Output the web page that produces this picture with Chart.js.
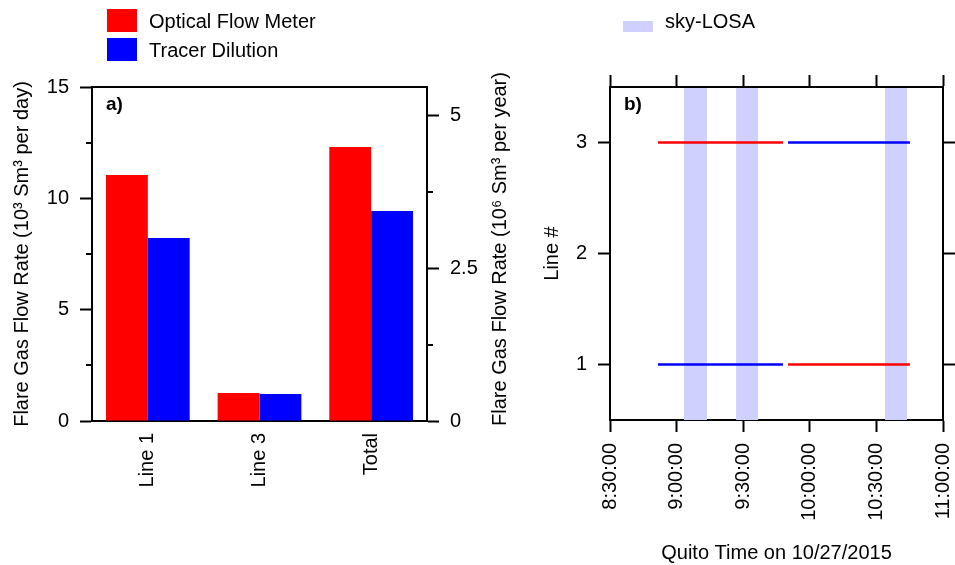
<!DOCTYPE html>
<html>
<head>
<meta charset="utf-8">
<title>Flare gas flow rates</title>
<script src="https://cdn.jsdelivr.net/npm/chart.js@4.4.1/dist/chart.umd.min.js"></script>
<style>
  html, body { margin: 0; padding: 0; background: #fff; }
  #page { position: relative; width: 955px; height: 565px; overflow: hidden;
          font-family: "Liberation Sans", Arial, sans-serif; color: #000; }
  #flowWrap { position: absolute; left: 0; top: 0; width: 540px; height: 565px; }
  #timeWrap { position: absolute; left: 540px; top: 0; width: 415px; height: 565px; }
  .swatch { position: absolute; }
  .key { position: absolute; font-size: 20px; line-height: 24px; white-space: nowrap; }
</style>
</head>
<body>
<div id="page">
  <div id="flowWrap"><canvas id="flowChart" width="540" height="565"></canvas></div>
  <div id="timeWrap"><canvas id="timeChart" width="415" height="565"></canvas></div>
  <div id="legend"></div>
</div>
<script>
const FONT = '"Liberation Sans", Arial, sans-serif';
const RED = '#ff0000';
const BLUE = '#0000ff';
const SKY = '#d0d0ff';

// a) flow rate per flare line, 10^3 Sm3 per day
const categories = ['Line 1', 'Line 3', 'Total'];
const seriesNames = ['Optical Flow Meter', 'Tracer Dilution'];
const opticalFlow = [11.05, 1.26, 12.31];
const tracerDilution = [8.22, 1.21, 9.43];
const dayTicks = [0, 5, 10, 15];
const dayMinorTicks = [2.5, 7.5, 12.5];
const yearTicks = [0, 2.5, 5];
const yearMinorTicks = [1.25, 3.75];

// b) measurement schedule, minutes after midnight
const runStart = [531.6, 590.2];
const runEnd = [587.9, 645.1];
const opticalLineNo = [3, 1];
const tracerLineNo = [1, 3];
const skyName = 'sky-LOSA';
const skyStart = [543.3, 566.8, 633.9];
const skyEnd = [553.7, 576.7, 643.8];
const timeTicks = [510, 540, 570, 600, 630, 660];
const lineTicks = [1, 2, 3];

const font = { family: FONT, size: 20 };
const grid = { drawOnChartArea: false, drawTicks: true, tickLength: 12, tickWidth: 2, tickColor: '#000' };
const border = { display: true, color: '#000', width: 2 };
const fixTicks = list => scale => { scale.ticks = list.map(v => ({ value: v })); };

// fixed axis thickness, and no extra room for labels hanging past the ends
const fixSize = (key, size) => scale => {
  scale[key] = size;
  scale.paddingLeft = scale.paddingRight = 0;
  scale.paddingTop = scale.paddingBottom = 0;
};

function clock(min) {
  const h = Math.floor(min / 60);
  const m = Math.round(min % 60);
  return h + ':' + String(m).padStart(2, '0') + ':00';
}

// frame, minor ticks, panel letter and extra rotated titles
const decorations = {
  id: 'decorations',
  afterDraw(chart, args, opts) {
    const { ctx, chartArea: a, scales } = chart;
    ctx.save();
    ctx.strokeStyle = '#000';
    ctx.lineWidth = 2;
    if (opts.topLine) {
      ctx.beginPath();
      ctx.moveTo(a.left, a.top);
      ctx.lineTo(a.right, a.top);
      ctx.stroke();
    }
    (opts.minor || []).forEach(m => {
      const s = scales[m.axis];
      m.values.forEach(v => {
        const y = Math.round(s.getPixelForValue(v));
        const x = s.position === 'left' ? a.left : a.right;
        const dir = s.position === 'left' ? -1 : 1;
        ctx.beginPath();
        ctx.moveTo(x, y);
        ctx.lineTo(x + dir * 6, y);
        ctx.stroke();
      });
    });
    ctx.fillStyle = '#000';
    ctx.font = 'bold 19px ' + FONT;
    ctx.textAlign = 'left';
    ctx.textBaseline = 'middle';
    ctx.fillText(opts.letter, a.left + 14, a.top + 18);
    if (opts.sideTitle) {
      ctx.font = '20px ' + FONT;
      ctx.textAlign = 'center';
      ctx.translate(opts.sideTitle.x, opts.sideTitle.y);
      ctx.rotate(-Math.PI / 2);
      ctx.fillText(opts.sideTitle.text, 0, 0);
    }
    ctx.restore();
  }
};

// sky-LOSA observation windows behind the runs
const skyBands = {
  id: 'skyBands',
  beforeDatasetsDraw(chart) {
    const { ctx, chartArea: a, scales: { x } } = chart;
    ctx.save();
    ctx.fillStyle = SKY;
    skyStart.forEach((t0, i) => {
      const x0 = x.getPixelForValue(t0);
      const x1 = x.getPixelForValue(skyEnd[i]);
      ctx.fillRect(x0, a.top + 1, x1 - x0, a.bottom - a.top - 1);
    });
    ctx.restore();
  }
};

new Chart(document.getElementById('flowChart'), {
  type: 'bar',
  data: {
    labels: categories,
    datasets: [
      { label: seriesNames[0], data: opticalFlow, backgroundColor: RED,
        categoryPercentage: 0.75, barPercentage: 1, borderWidth: 0 },
      { label: seriesNames[1], data: tracerDilution, backgroundColor: BLUE,
        categoryPercentage: 0.75, barPercentage: 1, borderWidth: 0 }
    ]
  },
  options: {
    responsive: false,
    animation: false,
    layout: { padding: { top: 87, left: 0, right: 0, bottom: 0 } },
    plugins: {
      legend: { display: false },
      tooltip: { enabled: false },
      decorations: {
        topLine: true,
        letter: 'a)',
        minor: [{ axis: 'y', values: dayMinorTicks }, { axis: 'y2', values: yearMinorTicks }],
        sideTitle: { x: 500, y: 249, text: 'Flare Gas Flow Rate (10\u2076 Sm\u00b3 per year)' }
      }
    },
    scales: {
      x: {
        grid: { display: false, drawTicks: false },
        border,
        ticks: { font, color: '#000', padding: 12, minRotation: 90, maxRotation: 90, autoSkip: false },
        afterFit: fixSize('height', 144)
      },
      y: {
        position: 'left', min: 0, max: 15,
        afterBuildTicks: fixTicks(dayTicks),
        grid, border,
        ticks: { font, color: '#000', padding: 11 },
        title: { display: true, text: 'Flare Gas Flow Rate (10\u00b3 Sm\u00b3 per day)', font, color: '#000',
                 padding: { top: 10, bottom: 0 } },
        afterFit: fixSize('width', 92)
      },
      y2: {
        position: 'right', min: 0, max: 15 * 365 / 1000,
        afterBuildTicks: fixTicks(yearTicks),
        grid, border,
        ticks: { font, color: '#000', padding: 11, callback: v => String(v) },
        afterFit: fixSize('width', 113)
      }
    }
  },
  plugins: [decorations]
});

// one flat segment per instrument and run
const runSets = [];
runStart.forEach((t0, i) => {
  runSets.push({ label: seriesNames[0], borderColor: RED,
    data: [{ x: t0, y: opticalLineNo[i] }, { x: runEnd[i], y: opticalLineNo[i] }] });
  runSets.push({ label: seriesNames[1], borderColor: BLUE,
    data: [{ x: t0, y: tracerLineNo[i] }, { x: runEnd[i], y: tracerLineNo[i] }] });
});
runSets.forEach(d => Object.assign(d, { borderWidth: 2.5, pointRadius: 0, fill: false, tension: 0 }));

new Chart(document.getElementById('timeChart'), {
  type: 'line',
  data: { datasets: runSets },
  options: {
    responsive: false,
    animation: false,
    layout: { padding: 0 },
    plugins: {
      legend: { display: false },
      tooltip: { enabled: false },
      decorations: { letter: 'b)' }
    },
    scales: {
      x: {
        type: 'linear', position: 'bottom', min: 510, max: 660,
        afterBuildTicks: fixTicks(timeTicks),
        grid, border,
        ticks: { font, color: '#000', padding: 11, minRotation: 90, maxRotation: 90, autoSkip: false,
                 callback: v => clock(v) },
        title: { display: true, text: 'Quito Time on 10/27/2015', font, color: '#000',
                 padding: { top: 0, bottom: 0 } },
        afterFit: fixSize('height', 145)
      },
      x2: {
        type: 'linear', position: 'top', min: 510, max: 660,
        afterBuildTicks: fixTicks(timeTicks),
        grid, border,
        ticks: { display: false },
        afterFit: fixSize('height', 87)
      },
      y: {
        type: 'linear', position: 'left', min: 0.5, max: 3.5,
        afterBuildTicks: fixTicks(lineTicks),
        grid, border,
        ticks: { font, color: '#000', padding: 11 },
        title: { display: true, text: 'Line #', font, color: '#000', padding: { top: 0, bottom: 0 } },
        afterFit: fixSize('width', 70)
      },
      y2: {
        type: 'linear', position: 'right', min: 0.5, max: 3.5,
        afterBuildTicks: fixTicks(lineTicks),
        grid, border,
        ticks: { display: false },
        afterFit: fixSize('width', 12)
      }
    }
  },
  plugins: [skyBands, decorations]
});

// legends above the panels
const legendItems = [
  { color: RED, text: seriesNames[0], box: [107, 9, 30, 23], textAt: [149, 8.5] },
  { color: BLUE, text: seriesNames[1], box: [107, 38, 30, 23], textAt: [149, 37.5] },
  { color: SKY, text: skyName, box: [623, 21, 30, 11], textAt: [665, 9.3] }
];
const legend = document.getElementById('legend');
legendItems.forEach(item => {
  const sw = document.createElement('div');
  sw.className = 'swatch';
  Object.assign(sw.style, { left: item.box[0] + 'px', top: item.box[1] + 'px',
    width: item.box[2] + 'px', height: item.box[3] + 'px', background: item.color });
  const tx = document.createElement('div');
  tx.className = 'key';
  tx.textContent = item.text;
  Object.assign(tx.style, { left: item.textAt[0] + 'px', top: item.textAt[1] + 'px' });
  legend.appendChild(sw);
  legend.appendChild(tx);
});
</script>
</body>
</html>
